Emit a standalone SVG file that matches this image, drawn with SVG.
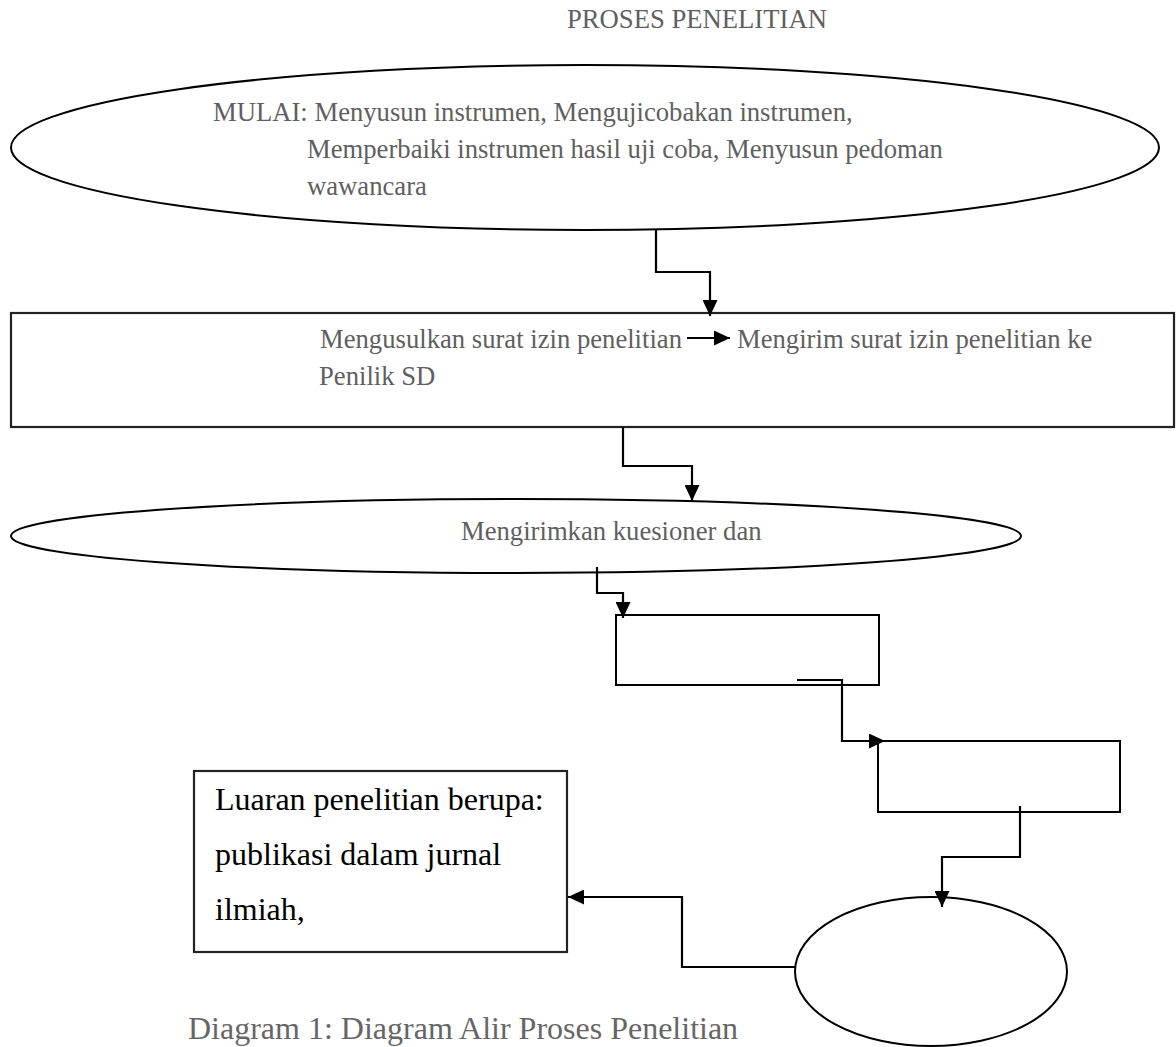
<svg xmlns="http://www.w3.org/2000/svg" width="1176" height="1047" viewBox="0 0 1176 1047">
<style>
.shape{fill:#fff;stroke:#000;stroke-width:2}
.box{fill:#fff;stroke:#222;stroke-width:2.2}
.gray{font-family:"Liberation Serif","Times New Roman",serif;font-size:26.67px;fill:#5f5f5f}
.big{font-family:"Liberation Serif","Times New Roman",serif;font-size:32px;fill:#000}
.cap{font-family:"Liberation Serif","Times New Roman",serif;font-size:32px;fill:#666}
.conn{fill:none;stroke:#000;stroke-width:2.2}
</style>
<defs>
<marker id="ah" viewBox="0 0 16 15" refX="16" refY="7.5" markerWidth="16" markerHeight="15" markerUnits="userSpaceOnUse" orient="auto">
<path d="M0,0 L16,7.5 L0,15 z" fill="#000"/>
</marker>
</defs>
<rect width="1176" height="1047" fill="#fff"/>
<text class="gray" x="567" y="28">PROSES PENELITIAN</text>

<g id="node-mulai">
<ellipse class="shape" cx="585" cy="147.5" rx="574" ry="82.5"/>
<text class="gray" x="213" y="121">MULAI: Menyusun instrumen, Mengujicobakan instrumen,</text>
<text class="gray" x="307" y="158">Memperbaiki instrumen hasil uji coba, Menyusun pedoman</text>
<text class="gray" x="307" y="195">wawancara</text>
</g>

<g id="node-surat">
<rect class="box" x="11" y="313" width="1163" height="114"/>
<text class="gray" x="320" y="348">Mengusulkan surat izin penelitian</text>
<path class="conn" d="M687,338 H730" stroke-width="2.6" marker-end="url(#ah)"/>
<text class="gray" x="737" y="348">Mengirim surat izin penelitian ke</text>
<text class="gray" x="319" y="385">Penilik SD</text>
</g>

<g id="node-kuesioner">
<ellipse class="shape" cx="516" cy="536" rx="505" ry="37"/>
<text class="gray" x="461" y="540">Mengirimkan kuesioner dan</text>
</g>

<g id="node-box2">
<rect class="shape" x="616" y="615" width="263" height="70"/>
</g>

<g id="node-box3">
<rect class="shape" x="878" y="741" width="242" height="71"/>
</g>

<g id="node-circle">
<ellipse class="shape" cx="931" cy="971.5" rx="136" ry="74.5"/>
</g>

<g id="node-luaran">
<rect class="box" x="194" y="771" width="373" height="181"/>
<text class="big" x="215" y="810">Luaran penelitian berupa:</text>
<text class="big" x="215" y="865">publikasi dalam jurnal</text>
<text class="big" x="215" y="920">ilmiah,</text>
</g>

<g id="connectors">
<path class="conn" d="M656,230 V272 H710 V316" marker-end="url(#ah)"/>
<path class="conn" d="M623,427 V466 H692 V501" marker-end="url(#ah)"/>
<path class="conn" d="M597,567 V593 H623 V618" marker-end="url(#ah)"/>
<path class="conn" d="M797,680 H842 V741 H885" marker-end="url(#ah)"/>
<path class="conn" d="M1020,806 V857 H942 V907" marker-end="url(#ah)"/>
<path class="conn" d="M795,967 H682 V897 H568" marker-end="url(#ah)"/>
</g>

<text class="cap" x="188" y="1039">Diagram 1: Diagram Alir Proses Penelitian</text>
</svg>
